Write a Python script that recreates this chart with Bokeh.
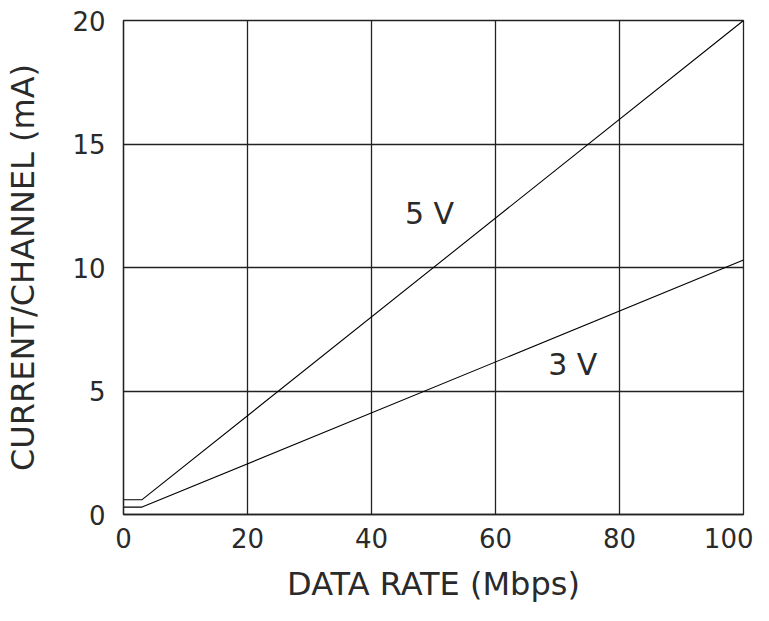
from bokeh.plotting import figure
from bokeh.models import Range1d, FixedTicker, Label
from bokeh.embed import file_html
from bokeh.resources import INLINE

# ---- data ----
rate_5v = [0, 3, 100]          # Mbps
current_5v = [0.6, 0.6, 20.0]  # mA
rate_3v = [0, 3, 100]
current_3v = [0.3, 0.3, 10.3]

x_ticks = [0, 20, 40, 60, 80, 100]
y_ticks = [0, 5, 10, 15, 20]

series_labels = ["5 V", "3 V"]

FONT = "DejaVu Sans"
INK = "#2a2a2a"

p = figure(width=753, height=605, output_backend="svg", toolbar_location=None,
           x_range=Range1d(0, 100), y_range=Range1d(0, 20),
           min_border_left=123, min_border_right=10,
           min_border_top=20, min_border_bottom=89)

p.background_fill_color = "white"
p.border_fill_color = "white"
p.outline_line_color = "#222222"
p.outline_line_width = 1.3

for ax in (p.xaxis[0], p.yaxis[0]):
    ax.major_tick_line_color = None
    ax.minor_tick_line_color = None
    ax.axis_line_color = "#222222"
    ax.axis_line_width = 1.3
    ax.major_label_text_font = FONT
    ax.major_label_text_font_size = "26px"
    ax.major_label_text_color = INK
    ax.axis_label_text_font = FONT
    ax.axis_label_text_font_style = "normal"
    ax.axis_label_text_font_size = "32px"
    ax.axis_label_text_color = INK

p.xaxis.major_label_standoff = 7
p.yaxis.major_label_standoff = 12
p.xaxis.ticker = FixedTicker(ticks=x_ticks)
p.yaxis.ticker = FixedTicker(ticks=y_ticks)
p.xaxis.axis_label = "DATA RATE (Mbps)"
p.yaxis.axis_label = "CURRENT/CHANNEL (mA)"
p.xaxis.axis_label_standoff = 14
p.yaxis.axis_label_standoff = 27

p.xgrid.ticker = FixedTicker(ticks=x_ticks)
p.ygrid.ticker = FixedTicker(ticks=y_ticks)
for g in (p.xgrid[0], p.ygrid[0]):
    g.grid_line_color = "#222222"
    g.grid_line_width = 1.3
    g.grid_line_alpha = 1.0

p.line(rate_5v, current_5v, line_color="black", line_width=1.1)
p.line(rate_3v, current_3v, line_color="black", line_width=1.1)

# curve labels (annotation positions, vertically centred on the text)
p.add_layout(Label(x=45.4, y=12.19, text=series_labels[0], text_font=FONT,
                   text_font_size="30px", text_color=INK,
                   text_baseline="middle"))
p.add_layout(Label(x=68.5, y=6.06, text=series_labels[1], text_font=FONT,
                   text_font_size="30px", text_color=INK,
                   text_baseline="middle"))

open("out.html", "w").write(file_html(p, INLINE))
